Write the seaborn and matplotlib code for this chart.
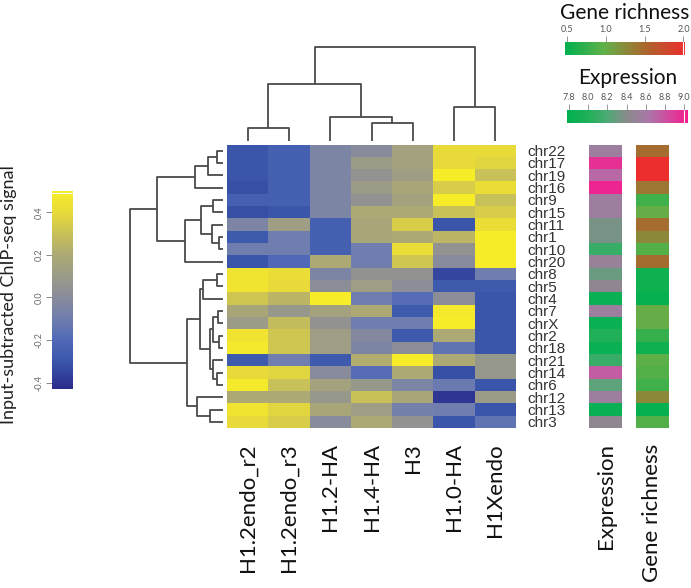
import numpy as np
import pandas as pd
import seaborn as sns
import matplotlib
matplotlib.use("Agg")
import matplotlib.pyplot as plt
from matplotlib.colors import LinearSegmentedColormap, Normalize
from matplotlib.cm import ScalarMappable

sns.set_style("white")
plt.rcParams["font.family"] = ["Lato", "DejaVu Sans"]

# rows in dendrogram order
chroms = ["chr22", "chr17", "chr19", "chr16", "chr9", "chr15", "chr11", "chr1",
          "chr10", "chr20", "chr8", "chr5", "chr4", "chr7", "chrX", "chr2",
          "chr18", "chr21", "chr14", "chr6", "chr12", "chr13", "chr3"]
samples = ["H1.2endo_r2", "H1.2endo_r3", "H1.2-HA", "H1.4-HA", "H3", "H1.0-HA", "H1Xendo"]

# input-subtracted ChIP-seq signal, one list per sample
h12endo_r2 = [-0.30, -0.30, -0.30, -0.32, -0.25, -0.32, -0.05, -0.28, -0.10, -0.30, 0.45, 0.45,
              0.32, 0.18, 0.10, 0.45, 0.48, -0.28, 0.40, 0.48, 0.20, 0.45, 0.40]
h12endo_r3 = [-0.25, -0.25, -0.25, -0.25, -0.25, -0.30, 0.12, -0.10, -0.10, -0.20, 0.42, 0.40,
              0.25, 0.08, 0.28, 0.32, 0.32, -0.10, 0.38, 0.30, 0.20, 0.38, 0.35]
h12_ha = [-0.05, -0.05, -0.05, -0.05, -0.05, -0.05, -0.25, -0.25, -0.25, 0.20, -0.05, 0.02,
          0.50, 0.15, 0.05, 0.12, 0.12, -0.28, 0.00, 0.15, 0.08, 0.18, 0.00]
h14_ha = [0.00, 0.10, 0.05, 0.10, 0.05, 0.20, 0.18, 0.18, -0.10, -0.10, 0.05, 0.12,
          -0.10, 0.20, -0.10, -0.02, -0.05, 0.22, -0.18, 0.08, 0.30, 0.12, 0.20]
h3 = [0.15, 0.15, 0.12, 0.18, 0.15, 0.20, 0.35, 0.20, 0.42, 0.32, 0.05, 0.02,
      -0.18, -0.28, -0.10, -0.28, 0.02, 0.50, 0.20, -0.05, 0.18, -0.08, 0.05]
h10_ha = [0.40, 0.40, 0.50, 0.35, 0.50, 0.30, -0.30, 0.25, 0.05, 0.00, -0.35, -0.28,
          0.02, 0.48, 0.50, 0.20, -0.15, 0.20, -0.32, -0.12, -0.40, -0.10, -0.30]
h1xendo = [0.40, 0.38, 0.30, 0.42, 0.30, 0.35, 0.42, 0.50, 0.50, 0.50, -0.10, -0.28,
           -0.30, -0.30, -0.30, -0.30, -0.30, 0.08, 0.08, -0.30, 0.10, -0.30, -0.15]

expression = [8.55, 8.95, 8.70, 9.00, 8.55, 8.55, 8.35, 8.35, 8.10, 8.50, 8.30, 8.45,
              7.85, 8.55, 7.85, 8.00, 7.85, 8.10, 8.75, 8.25, 8.55, 7.85, 8.45]
gene_richness = [1.45, 2.00, 2.00, 1.38, 0.80, 1.00, 1.45, 1.25, 0.90, 1.45, 0.55, 0.55,
                 0.50, 1.00, 1.00, 0.75, 0.55, 0.95, 0.90, 0.80, 1.25, 0.50, 0.90]

# dendrograms: (left, right, height); ints refer to earlier merges
row_tree = [("chr22", "chr17", 0.065), (0, "chr19", 0.155), (1, "chr16", 0.30),
            ("chr9", "chr15", 0.10), ("chr1", "chr10", 0.036), ("chr11", 4, 0.12),
            (3, 5, 0.23), (6, "chr20", 0.41), (2, 7, 0.71),
            ("chr8", "chr5", 0.058), (9, "chr4", 0.216), ("chr7", "chrX", 0.047),
            ("chr2", "chr18", 0.04), (11, 12, 0.10), ("chr14", "chr6", 0.058),
            ("chr21", 14, 0.10), (13, 15, 0.14), (10, 16, 0.245),
            ("chr13", "chr3", 0.14), ("chr12", 18, 0.28), (17, 19, 0.39), (8, 20, 1.0)]
col_tree = [("H1.2endo_r2", "H1.2endo_r3", 0.142), ("H1.4-HA", "H3", 0.192),
            ("H1.2-HA", 1, 0.26), (0, 2, 0.61), ("H1.0-HA", "H1Xendo", 0.366), (3, 4, 1.0)]

signal = pd.DataFrame({"H1.2endo_r2": h12endo_r2, "H1.2endo_r3": h12endo_r3,
                       "H1.2-HA": h12_ha, "H1.4-HA": h14_ha, "H3": h3,
                       "H1.0-HA": h10_ha, "H1Xendo": h1xendo}, index=chroms)[samples]

sig_cmap = LinearSegmentedColormap.from_list("sig", [
    (0.00, "#2b2c8c"), (0.14, "#3a56ab"), (0.25, "#5169b7"), (0.355, "#707eae"),
    (0.46, "#888b9b"), (0.57, "#9b9b88"), (0.677, "#aca974"), (0.785, "#c8c058"),
    (0.89, "#e7da3a"), (1.00, "#f7ec28")])
expr_cmap = LinearSegmentedColormap.from_list("expr", [
    (0.0, "#00b050"), (0.17, "#20b058"), (0.33, "#4caa74"), (0.5, "#8a8a8c"),
    (0.67, "#a878a8"), (0.83, "#d04ca0"), (1.0, "#f41c8c")])
gr_cmap = LinearSegmentedColormap.from_list("gr", [
    (0.0, "#00b050"), (0.33, "#62b048"), (0.5, "#8a8a3a"), (0.67, "#aa662c"),
    (1.0, "#ec2e2e")])

W, H = 691, 588
fig = plt.figure(figsize=(W / 100, H / 100), dpi=100)


def px_axes(x0, x1, y0, y1):
    return fig.add_axes([x0 / W, 1 - y1 / H, (x1 - x0) / W, (y1 - y0) / H])


def draw_dendro(ax, tree, order, top):
    pos = {name: i + 0.5 for i, name in enumerate(order)}
    nodes = []
    for a, b, h in tree:
        pa, ha = nodes[a] if isinstance(a, int) else (pos[a], 0.0)
        pb, hb = nodes[b] if isinstance(b, int) else (pos[b], 0.0)
        xs, ys = [pa, pa, pb, pb], [ha, h, h, hb]
        if top:
            ax.plot(xs, ys, color="#4a4a4a", lw=1.3, clip_on=False, solid_capstyle="butt")
        else:
            ax.plot(ys, xs, color="#4a4a4a", lw=1.3, clip_on=False, solid_capstyle="butt")
        nodes.append(((pa + pb) / 2, h))
    ax.set_axis_off()


# main heatmap
ax_hm = px_axes(227, 516, 144.5, 428)
sns.heatmap(signal, ax=ax_hm, cmap=sig_cmap, vmin=-0.43, vmax=0.5, cbar=False,
            xticklabels=True, yticklabels=True)
ax_hm.yaxis.tick_right()
ax_hm.set_yticklabels(chroms, rotation=0, fontsize=11, family="Liberation Sans",
                      color="#333333", ha="left")
ax_hm.set_xticklabels(samples, rotation=90, fontsize=16, color="#111111")
ax_hm.tick_params(axis="y", length=0, pad=8)
ax_hm.tick_params(axis="x", length=0, pad=11)
ax_hm.set_xlabel("")
ax_hm.set_ylabel("")

# dendrograms
ax_cd = px_axes(227, 516, 47, 141)
ax_cd.set_xlim(0, len(samples))
ax_cd.set_ylim(0, 1)
draw_dendro(ax_cd, col_tree, samples, top=True)

ax_rd = px_axes(130, 222.7, 144.5, 428)
ax_rd.set_ylim(len(chroms), 0)
ax_rd.set_xlim(1, 0)
draw_dendro(ax_rd, row_tree, chroms, top=False)

# side annotation bars
ax_ex = px_axes(589, 622, 144.5, 428)
sns.heatmap(pd.DataFrame({"Expression": expression}, index=chroms), ax=ax_ex,
            cmap=expr_cmap, vmin=7.78, vmax=9.04, cbar=False, yticklabels=False)
ax_gr = px_axes(636, 669, 144.5, 428)
sns.heatmap(pd.DataFrame({"Gene richness": gene_richness}, index=chroms), ax=ax_gr,
            cmap=gr_cmap, vmin=0.47, vmax=2.0, cbar=False, yticklabels=False)
for ax in (ax_ex, ax_gr):
    ax.set_xticklabels(ax.get_xticklabels(), rotation=90, fontsize=16, color="#111111")
    ax.tick_params(axis="x", length=0, pad=11)
    ax.set_ylabel("")

# signal colour key
cax = px_axes(52, 73, 191, 389)
cb = fig.colorbar(ScalarMappable(Normalize(-0.43, 0.5), sig_cmap), cax=cax,
                  ticks=[-0.4, -0.2, 0.0, 0.2, 0.4], format="%.1f")
cb.outline.set_visible(False)
cax.yaxis.set_ticks_position("left")
cax.tick_params(axis="y", length=4, width=0.6, color="#777777", labelsize=6.5,
                labelcolor="#666666", pad=2)
for t in cax.get_yticklabels():
    t.set_rotation(90)
    t.set_va("center")
cax.axhline(0.49, color="white", lw=0.8)
fig.text(9 / W, 1 - 295 / H, "Input-subtracted ChIP-seq signal", rotation=90,
         ha="center", va="center", fontsize=13, color="#222222")

# top-right colour keys
for (x0, x1, y0, y1), norm, cmap, ticks, title, ty in [
        ((565, 685, 42, 55), Normalize(0.47, 2.02), gr_cmap, [0.5, 1.0, 1.5, 2.0], "Gene richness", 13),
        ((567, 688, 110, 123), Normalize(7.78, 9.04), expr_cmap,
         [7.8, 8.0, 8.2, 8.4, 8.6, 8.8, 9.0], "Expression", 78)]:
    kax = px_axes(x0, x1, y0, y1)
    kb = fig.colorbar(ScalarMappable(norm, cmap), cax=kax, orientation="horizontal",
                      ticks=ticks, format="%.1f")
    kb.outline.set_visible(False)
    kax.xaxis.set_ticks_position("top")
    kax.tick_params(axis="x", length=4, width=0.6, color="#888888", labelsize=6.5,
                    labelcolor="#555555", pad=2)
    kax.axvline(ticks[-1] - 0.005 * (ticks[-1] - ticks[0]), color="white", lw=0.8)
    fig.text((x0 + x1) / 2 / W, 1 - ty / H, title, ha="center", va="center",
             fontsize=15, color="#111111")

fig.savefig("out.png", dpi=100)
